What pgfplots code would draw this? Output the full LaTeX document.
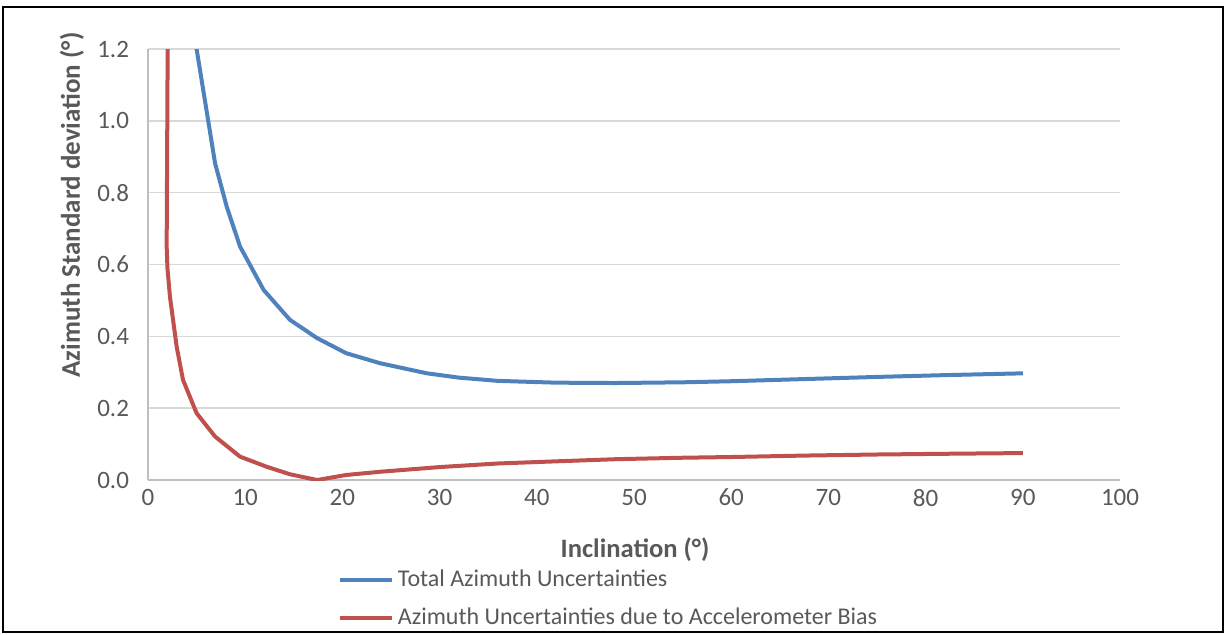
\documentclass[border=0pt]{standalone}
\usepackage{pgfplots}
\pgfplotsset{compat=1.18}
\usepackage{fontspec}
\setmainfont{Carlito}
\definecolor{txt}{HTML}{595959}
\definecolor{gridc}{HTML}{D9D9D9}
\definecolor{axc}{HTML}{BFBFBF}
\definecolor{sblue}{HTML}{4F81BD}
\definecolor{sred}{HTML}{C0504D}
\begin{document}
\begin{tikzpicture}
\path[use as bounding box] (0pt,0pt) rectangle (613pt,317pt);
\draw[black, line width=1pt] (1.5pt,1pt) rectangle (611.5pt,313.5pt);
\begin{axis}[
  at={(74pt,77pt)}, anchor=south west,
  scale only axis, width=486pt, height=215.5pt,
  xmin=0, xmax=100, ymin=0, ymax=1.2,
  xtick={0,10,...,100}, ytick={0,0.2,...,1.2},
  axis lines*=left,
  axis line style={axc, line width=0.8pt},
  major tick length=0pt,
  ymajorgrids, grid style={gridc, line width=0.8pt},
  tick label style={font=\fontsize{12.5}{14}\selectfont, text=txt},
  /pgf/number format/assume math mode=true,
  yticklabel style={/pgf/number format/fixed, /pgf/number format/fixed zerofill, /pgf/number format/precision=1, xshift=-6pt},
  xticklabel style={yshift=-1pt},
  clip=true,
  legend style={at={(0.195,-0.199)}, anchor=north west, draw=none, fill=none,
    font=\fontsize{12}{14}\selectfont, text=txt, row sep=5pt,
    legend cell align=left, inner sep=0pt},
  legend image code/.code={\draw[#1] (0pt,0pt) -- (26pt,0pt);},
]
\addplot[sblue, line width=2pt] coordinates {
(4.4,1.32) (5.0,1.2) (6.9,0.882) (8.1,0.761) (9.47,0.65) (11.9,0.529) (14.6,0.446)
(17.4,0.395) (20.4,0.353) (23.9,0.325) (28.7,0.297) (32,0.285) (36,0.276) (42,0.271)
(48,0.270) (55,0.272) (60,0.275) (67.5,0.281) (75,0.287) (82,0.292) (90,0.297)
};
\addlegendentry{Total Azimuth Uncertainties}
\addplot[sred, line width=2pt] coordinates {
(2.05,1.35) (1.92,0.65) (2.0,0.59) (2.26,0.51) (2.95,0.371) (3.6,0.279) (5.0,0.186)
(6.9,0.121) (9.47,0.065) (12.2,0.037) (14.6,0.016) (17.4,0.0) (20.4,0.014) (23.9,0.023)
(30,0.036) (36,0.046) (42,0.052) (48.2,0.058) (55,0.062) (60,0.064) (67.5,0.068)
(75,0.071) (82,0.073) (90,0.075)
};
\addlegendentry{Azimuth Uncertainties due to Accelerometer Bias}
\end{axis}
\node[rotate=90, font=\bfseries\fontsize{13.5}{15}\selectfont, text=txt] at (36pt,214.5pt) {Azimuth Standard deviation (°)};
\node[font=\bfseries\fontsize{13.3}{15}\selectfont, text=txt] at (317.5pt,42pt) {Inclination (°)};
\end{tikzpicture}
\end{document}
